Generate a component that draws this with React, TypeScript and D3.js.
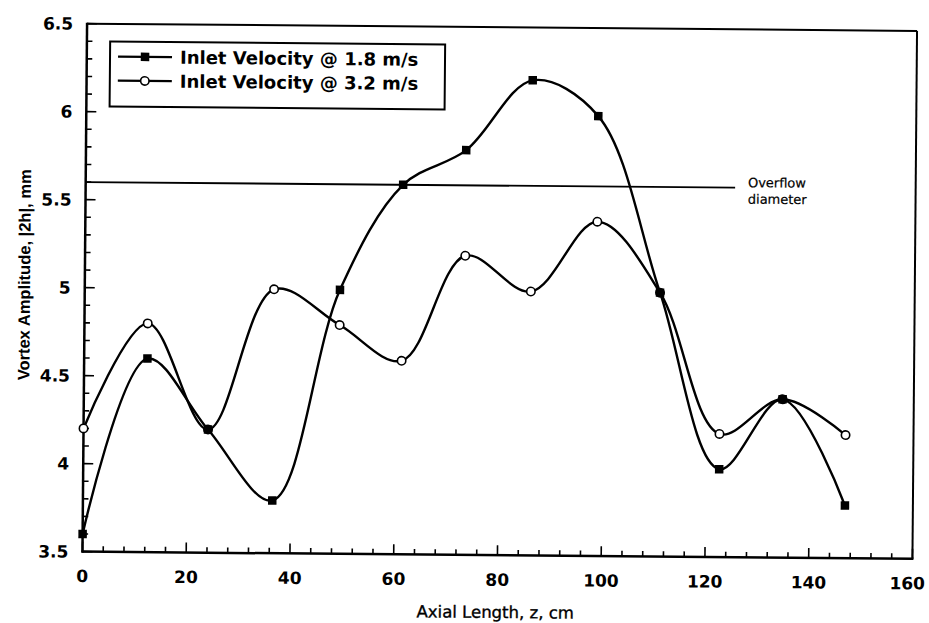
import React from "react";
import * as d3 from "d3";

const zPositions = [0, 12.2, 24.0, 36.5, 49.2, 61.2, 73.3, 86.0, 98.7, 110.9, 122.6, 134.7, 146.9];
const amp18 = [3.6, 4.6, 4.2, 3.8, 5.0, 5.6, 5.8, 6.2, 6.0, 5.0, 4.0, 4.4, 3.8];
const amp32 = [4.2, 4.8, 4.2, 5.0, 4.8, 4.6, 5.2, 5.0, 5.4, 5.0, 4.2, 4.4, 4.2];
const seriesNames = ["Inlet Velocity @ 1.8 m/s", "Inlet Velocity @ 3.2 m/s"];
const xTicks = [0, 20, 40, 60, 80, 100, 120, 140, 160];
const yTicks = [3.5, 4, 4.5, 5, 5.5, 6, 6.5];
const yTickLabels = ["3.5", "4", "4.5", "5", "5.5", "6", "6.5"];
const overflowValue = 5.6;
const overflowEnd = 125.2;
const overflowLabel = ["Overflow", "diameter"];
const xTitle = "Axial Length, z, cm";
const yTitle = "Vortex Amplitude, |2h|, mm";

const W = 929;
const H = 623;
const L = 84.75, R = 914.75, T = 27.25, B = 555.25;
const FONT = "'DejaVu Sans', sans-serif";

export default function App() {
  const x = d3.scaleLinear().domain([0, 160]).range([L, R]);
  const y = d3.scaleLinear().domain([3.5, 6.5]).range([B, T]);
  const line = d3
    .line<[number, number]>()
    .x((d) => x(d[0]))
    .y((d) => y(d[1]))
    .curve(d3.curveCatmullRom.alpha(0.5));
  const s1 = zPositions.map((z, i) => [z, amp18[i]] as [number, number]);
  const s2 = zPositions.map((z, i) => [z, amp32[i]] as [number, number]);
  const xMinor = d3.range(0, 161, 4);
  const yMinor = d3.range(35, 66, 1).map((v) => v / 10);
  const sq = 8.5;

  return (
    <svg width={W} height={H} style={{ position: "absolute", left: 0, top: 0, background: "#fff" }}>
      <rect x={0} y={0} width={W} height={H} fill="#fff" />
      <g transform="rotate(0.5, 499.75, 291.25)">
        {/* frame */}
        <line x1={L} y1={T} x2={R} y2={T} stroke="#000" strokeWidth={2} />
        <line x1={R} y1={T} x2={R} y2={B} stroke="#000" strokeWidth={2} />
        <line x1={L} y1={T - 1} x2={L} y2={B + 1} stroke="#000" strokeWidth={2.5} />
        <line x1={L - 1} y1={B} x2={R + 1} y2={B} stroke="#000" strokeWidth={2.5} />
        {/* ticks */}
        {xMinor.map((v) => (
          <line key={"xm" + v} x1={x(v)} x2={x(v)} y1={B} y2={B - (v % 20 === 0 ? 10 : 5.5)} stroke="#000" strokeWidth={1.6} />
        ))}
        {yMinor.map((v) => (
          <line key={"ym" + v} x1={L} x2={L + (Math.round(v * 10) % 5 === 0 ? 10 : 5.5)} y1={y(v)} y2={y(v)} stroke="#000" strokeWidth={1.6} />
        ))}
        {xTicks.map((v, i) => (
          <text key={"xt" + v} x={x(v) - (i === xTicks.length - 1 ? 5 : 0)} y={B + 30.5} textAnchor="middle" fontFamily={FONT} fontWeight="bold" fontSize={17} fill="#000">
            {v}
          </text>
        ))}
        {yTicks.map((v, i) => (
          <text key={"yt" + v} x={L - 14} y={y(v) + 6.2} textAnchor="end" fontFamily={FONT} fontWeight="bold" fontSize={17} fill="#000">
            {yTickLabels[i]}
          </text>
        ))}
        {/* titles */}
        <text x={498} y={618} textAnchor="middle" fontFamily={FONT} fontSize={16.5} fill="#000" stroke="#000" strokeWidth={0.35}>
          {xTitle}
        </text>
        <text transform="translate(30,279) rotate(-90)" textAnchor="middle" fontFamily="'Liberation Sans', Arial, sans-serif" fontWeight="bold" fontSize={16.5} fill="#000">
          {yTitle}
        </text>
        {/* overflow line */}
        <line x1={x(0)} x2={x(overflowEnd)} y1={y(overflowValue)} y2={y(overflowValue)} stroke="#000" strokeWidth={1.8} />
        <text x={747} y={185} fontFamily={FONT} fontSize={13} fill="#000" stroke="#000" strokeWidth={0.2}>{overflowLabel[0]}</text>
        <text x={747} y={201.5} fontFamily={FONT} fontSize={13} fill="#000" stroke="#000" strokeWidth={0.2}>{overflowLabel[1]}</text>
        {/* series */}
        <path d={line(s2) || ""} fill="none" stroke="#000" strokeWidth={2.4} />
        <path d={line(s1) || ""} fill="none" stroke="#000" strokeWidth={2.4} />
        {s2.map((d, i) => (
          <circle key={"c" + i} cx={x(d[0])} cy={y(d[1])} r={4.2} fill="#fff" stroke="#000" strokeWidth={1.6} />
        ))}
        {s1.map((d, i) => (
          <rect key={"s" + i} x={x(d[0]) - sq / 2} y={y(d[1]) - sq / 2} width={sq} height={sq} fill="#000" />
        ))}
        {/* legend */}
        <rect x={108} y={45} width={335} height={65} fill="#fff" stroke="#000" strokeWidth={2} />
        <line x1={116} x2={170} y1={60} y2={60} stroke="#000" strokeWidth={2.4} />
        <rect x={143 - sq / 2} y={60 - sq / 2} width={sq} height={sq} fill="#000" />
        <text x={178} y={66.6} fontFamily={FONT} fontWeight="bold" fontSize={18} fill="#000">{seriesNames[0]}</text>
        <line x1={116} x2={170} y1={84} y2={84} stroke="#000" strokeWidth={2.4} />
        <circle cx={143} cy={84} r={4.2} fill="#fff" stroke="#000" strokeWidth={1.6} />
        <text x={178} y={90.6} fontFamily={FONT} fontWeight="bold" fontSize={18} fill="#000">{seriesNames[1]}</text>
      </g>
    </svg>
  );
}
